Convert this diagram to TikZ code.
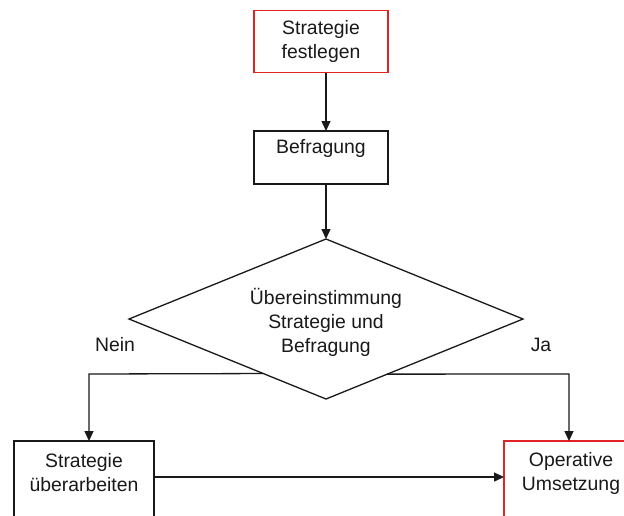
\documentclass[tikz,border=0pt]{standalone}
\usepackage{fontspec}
\setmainfont{Liberation Sans}
\usetikzlibrary{arrows.meta,shapes.geometric}
\definecolor{boxred}{RGB}{225,35,35}
\definecolor{ink}{RGB}{25,25,25}
\begin{document}
\begin{tikzpicture}[x=1pt,y=-1pt,
  every node/.style={font=\fontsize{19.4}{24}\selectfont, text=ink},
  box/.style={draw=ink, line width=1.3pt, rectangle, inner sep=0pt, outer sep=0pt},
  redbox/.style={box, draw=boxred},
  lbl/.style={align=center, inner sep=0pt},
  arr/.style={draw=ink, line width=1.3pt, -{Triangle[length=10pt,width=9pt]}},
  dia/.style={draw=ink, line width=1.3pt, diamond, inner sep=0pt, outer sep=0pt}]
\useasboundingbox (0,0) rectangle (624,515);
\clip (0,0) rectangle (624,515);
\fill[white] (0,0) rectangle (624,515);
% shapes
\node[redbox, minimum width=134pt, minimum height=62pt] (b1) at (321,41.5) {};
\node[box, minimum width=134pt, minimum height=53pt] (b2) at (321,157.5) {};
\node[dia, minimum width=394pt, minimum height=160pt] (d) at (326,319) {};
\node[box, minimum width=140pt, minimum height=100pt] (b3) at (84,491) {};
\node[redbox, minimum width=136pt, minimum height=100pt] (b4) at (572,491) {};
% texts
\node[lbl] (t1) at (b1) {Strategie\\festlegen};
\node[lbl] (t2) at (321,148) {Befragung};
\node[lbl] (td) at (326,322) {Übereinstimmung\\Strategie und\\Befragung};
\node[lbl] (t3) at (84,473) {Strategie\\überarbeiten};
\node[lbl] (t4) at (571,473) {Operative\\Umsetzung};
\node[lbl] (nein) at (115,345) {Nein};
\node[lbl] (ja) at (541,345) {Ja};
% helper coordinates
\coordinate (nl) at (89,374);
\coordinate (jr) at (569,374);
\coordinate (hy) at (0,477);
% connectors
\draw[arr] (b1.south -| d.north) -- (b2.north -| d.north);
\draw[arr] (b2.south -| d.north) -- (d.north);
\draw[arr] (d.221.6) -- (nl) -- (nl |- b3.north);
\draw[arr] (d.318.4) -- (jr) -- (jr |- b4.north);
\draw[arr] (b3.east |- hy) -- (b4.west |- hy);
\end{tikzpicture}
\end{document}
